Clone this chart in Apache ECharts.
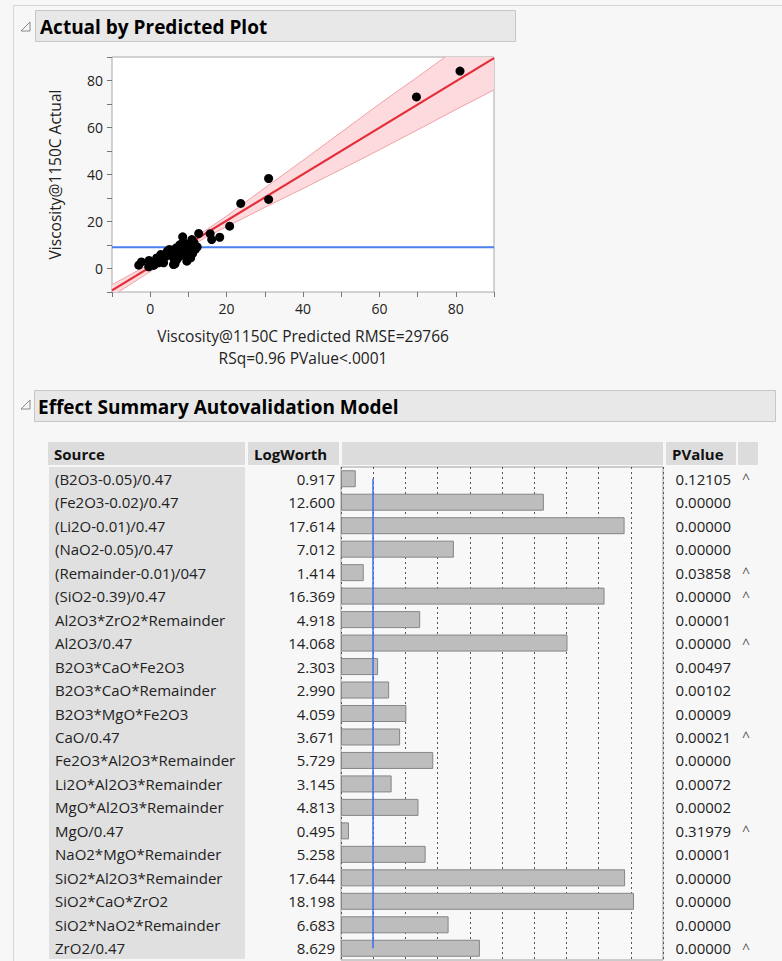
<!DOCTYPE html>
<html>
<head>
<meta charset="utf-8">
<script src="https://cdn.jsdelivr.net/npm/echarts@6/dist/echarts.min.js"></script>
<style>
html,body{margin:0;padding:0;background:#f7f7f7;}
#c{width:782px;height:961px;}
</style>
</head>
<body>
<div id="c"></div>
<script>
// ---- Actual by Predicted data ----
const predicted = [-3.0,-2.3,-0.4,-0.3,1.3,1.7,2.8,3.5,3.9,4.5,5.0,5.5,6.1,6.5,7.0,7.4,7.8,8.5,8.5,9.1,9.6,9.7,10.4,10.9,11.1,11.5,12.3,12.7,15.7,16.1,18.2,20.8,23.7,31.0,31.0,69.7,81.1,2.2,0.9,3.0,4.3,5.9,6.8,7.7,8.3,8.9,10.1,10.6,11.8,6.1];
const actual    = [1.4,2.8,0.7,3.4,2.0,4.5,6.0,2.4,5.0,7.4,8.1,6.0,4.5,2.0,3.8,6.7,10.2,13.5,8.1,6.0,3.1,9.5,8.1,12.3,6.4,10.9,9.2,14.9,14.8,12.3,13.3,18.0,27.7,38.3,29.4,73.0,84.0,2.4,1.3,4.1,5.5,7.4,8.8,5.2,7.4,10.9,7.0,4.5,8.1,1.7];
const fitX = [-10, 90];
const fitY = [-9.3, 89.5];
const meanActual = 9.06;
const bandX     = [-10, 0, 5, 9, 15, 20, 30, 40, 50, 60, 70, 80, 90];
const bandUpper = [-6.9, 2.0, 6.6, 10.5, 16.8, 22.3, 34.3, 46.0, 58.0, 70.0, 81.5, 93.3, 105.0];
const bandLower = [-11.8, -1.3, 4.0, 8.1, 13.6, 17.8, 26.0, 34.0, 42.2, 50.5, 59.0, 67.6, 76.0];
const axisTicks = [0, 20, 40, 60, 80];

// ---- Effect Summary data ----
const sources = ["(B2O3-0.05)/0.47","(Fe2O3-0.02)/0.47","(Li2O-0.01)/0.47","(NaO2-0.05)/0.47","(Remainder-0.01)/047","(SiO2-0.39)/0.47","Al2O3*ZrO2*Remainder","Al2O3/0.47","B2O3*CaO*Fe2O3","B2O3*CaO*Remainder","B2O3*MgO*Fe2O3","CaO/0.47","Fe2O3*Al2O3*Remainder","Li2O*Al2O3*Remainder","MgO*Al2O3*Remainder","MgO/0.47","NaO2*MgO*Remainder","SiO2*Al2O3*Remainder","SiO2*CaO*ZrO2","SiO2*NaO2*Remainder","ZrO2/0.47"];
const logWorth = [0.917,12.600,17.614,7.012,1.414,16.369,4.918,14.068,2.303,2.990,4.059,3.671,5.729,3.145,4.813,0.495,5.258,17.644,18.198,6.683,8.629];
const pValues = ["0.12105","0.00000","0.00000","0.00000","0.03858","0.00000","0.00001","0.00000","0.00497","0.00102","0.00009","0.00021","0.00000","0.00072","0.00002","0.31979","0.00001","0.00000","0.00000","0.00000","0.00000"];
const heredity = ["^","","","","^","^","","^","","","","^","","","","^","","","","","^"];
const refLogWorth = 2;

const FONT = '"Open Sans", "Noto Sans", sans-serif';
const TXT = '#222';

const chart = echarts.init(document.getElementById('c'), null, {renderer: 'svg', width: 782, height: 961});

const pts = predicted.map((x, i) => [x, actual[i]]);
const fitData = fitX.map((x, i) => [x, fitY[i]]);
const meanData = [[-10, meanActual], [90, meanActual]];

function tri(x, y) {
  return {type: 'polygon', shape: {points: [[x + 9, y], [x + 9, y + 9], [x, y + 9]]},
          style: {fill: 'none', stroke: '#8a8a8a', lineWidth: 1}, silent: true};
}
function hdr(x, w, label) {
  return {type: 'group', children: [
    {type: 'rect', shape: {x: x, y: 442, width: w, height: 23}, style: {fill: '#dcdcdc'}},
    {type: 'text', x: x + 6, y: 454, style: {text: label, font: 'bold 15px ' + FONT, fill: '#111', verticalAlign: 'middle'}}
  ]};
}

const option = {
  backgroundColor: '#f7f7f7',
  animation: false,
  textStyle: {fontFamily: FONT},
  graphic: [
    {type: 'line', shape: {x1: 13, y1: 5.5, x2: 782, y2: 5.5}, style: {stroke: '#d6d6d6', lineWidth: 1}, silent: true},
    {type: 'line', shape: {x1: 13.5, y1: 5, x2: 13.5, y2: 961}, style: {stroke: '#d6d6d6', lineWidth: 1}, silent: true},
    tri(21, 22),
    {type: 'rect', shape: {x: 35.5, y: 10.5, width: 480, height: 31}, style: {fill: '#e8e8e8', stroke: '#c6c6c6', lineWidth: 1}, silent: true},
    {type: 'text', x: 40, y: 27, style: {text: 'Actual by Predicted Plot', font: 'bold 19px ' + FONT, fill: '#000', verticalAlign: 'middle'}},
    tri(21, 400),
    {type: 'rect', shape: {x: 34.5, y: 390.5, width: 741, height: 31}, style: {fill: '#e8e8e8', stroke: '#c6c6c6', lineWidth: 1}, silent: true},
    {type: 'text', x: 38, y: 407, style: {text: 'Effect Summary Autovalidation Model', font: 'bold 19px ' + FONT, fill: '#000', verticalAlign: 'middle'}},
    {type: 'rect', shape: {x: 49, y: 467, width: 196, height: 492}, style: {fill: '#e0e0e0'}, silent: true, z: -1},
    hdr(48, 197, 'Source'),
    hdr(248, 91, 'LogWorth'),
    hdr(342, 321, ''),
    hdr(666, 70, 'PValue'),
    hdr(738, 20, '')
  ],
  grid: [
    {left: 112, top: 57, width: 382, height: 235, show: true, backgroundColor: '#fff', borderColor: '#a8a8a8', borderWidth: 1},
    {left: 341, top: 467, width: 322, height: 493, show: true, backgroundColor: '#f8f8f8', borderColor: '#a0a0a0', borderWidth: 1}
  ],
  xAxis: [
    {gridIndex: 0, type: 'value', min: -10, max: 90, interval: 10,
     axisLine: {show: false, onZero: false}, splitLine: {show: false},
     axisTick: {show: true, length: 5, lineStyle: {color: '#777'}},
     axisLabel: {fontSize: 14, color: TXT, margin: 9, formatter: v => axisTicks.indexOf(v) >= 0 ? String(v) : ''},
     name: 'Viscosity@1150C Predicted RMSE=29766\nRSq=0.96 PValue<.0001',
     nameLocation: 'middle', nameGap: 33,
     nameTextStyle: {fontSize: 15.5, color: TXT, lineHeight: 22}},
    {gridIndex: 1, type: 'value', min: 0, max: 20, interval: 2,
     axisLine: {show: false, onZero: false}, axisTick: {show: false}, axisLabel: {show: false},
     splitLine: {show: true, lineStyle: {color: '#555', type: [2, 3], width: 1}}}
  ],
  yAxis: [
    {gridIndex: 0, type: 'value', min: -10, max: 90, interval: 10,
     axisLine: {show: false, onZero: false}, splitLine: {show: false},
     axisTick: {show: true, length: 5, lineStyle: {color: '#777'}},
     axisLabel: {fontSize: 14, color: TXT, margin: 9, formatter: v => axisTicks.indexOf(v) >= 0 ? String(v) : ''},
     name: 'Viscosity@1150C Actual', nameLocation: 'middle', nameGap: 49,
     nameTextStyle: {fontSize: 15.5, color: TXT}},
    {gridIndex: 1, type: 'category', data: sources, inverse: true, position: 'left',
     axisLine: {show: false, onZero: false}, axisTick: {show: false}, splitLine: {show: false},
     axisLabel: {interval: 0, align: 'left', margin: 286, fontSize: 15, color: TXT}},
    {gridIndex: 1, type: 'category', data: sources, inverse: true, position: 'left',
     axisLine: {show: false, onZero: false}, axisTick: {show: false}, splitLine: {show: false},
     axisLabel: {interval: 0, align: 'right', margin: 6, fontSize: 15, color: TXT,
                 formatter: (v, i) => logWorth[i].toFixed(3)}},
    {gridIndex: 1, type: 'category', data: sources, inverse: true, position: 'right',
     axisLine: {show: false, onZero: false}, axisTick: {show: false}, splitLine: {show: false},
     axisLabel: {interval: 0, align: 'right', margin: 68, fontSize: 15, color: TXT,
                 formatter: (v, i) => pValues[i]}},
    {gridIndex: 1, type: 'category', data: sources, inverse: true, position: 'right',
     axisLine: {show: false, onZero: false}, axisTick: {show: false}, splitLine: {show: false},
     axisLabel: {interval: 0, align: 'left', margin: 79, fontSize: 14, color: '#555',
                 formatter: (v, i) => heredity[i]}}
  ],
  series: [
    {type: 'custom', xAxisIndex: 0, yAxisIndex: 0, clip: true, silent: true, z: 1,
     data: [[bandX[0], bandLower[0]]],
     renderItem: function (params, api) {
       const up = bandX.map((x, i) => api.coord([x, bandUpper[i]]));
       const lo = bandX.map((x, i) => api.coord([x, bandLower[i]]));
       const poly = up.concat(lo.slice().reverse());
       return {type: 'group', children: [
         {type: 'polygon', shape: {points: poly}, style: {fill: '#fcdade', stroke: null}},
         {type: 'polyline', shape: {points: up}, style: {stroke: '#f3a0a9', lineWidth: 1, fill: null}},
         {type: 'polyline', shape: {points: lo}, style: {stroke: '#f3a0a9', lineWidth: 1, fill: null}}
       ]};
     }},
    {type: 'line', xAxisIndex: 0, yAxisIndex: 0, data: meanData, symbol: 'none',
     lineStyle: {color: '#4a80ee', width: 2}, z: 2, silent: true},
    {type: 'line', xAxisIndex: 0, yAxisIndex: 0, data: fitData, symbol: 'none',
     lineStyle: {color: '#e52d38', width: 2.2}, z: 3, silent: true},
    {type: 'scatter', xAxisIndex: 0, yAxisIndex: 0, data: pts, symbolSize: 9,
     itemStyle: {color: '#000', opacity: 1}, z: 4, silent: true},
    {type: 'bar', xAxisIndex: 1, yAxisIndex: 1, data: logWorth, barWidth: 17,
     itemStyle: {color: '#bdbdbd', borderColor: '#868686', borderWidth: 1}, silent: true,
     markLine: {silent: true, symbol: 'none', label: {show: false},
       lineStyle: {color: '#3a6ff0', width: 1.5, type: 'solid'},
       data: [[{coord: [refLogWorth, sources[0]]}, {coord: [refLogWorth, sources[sources.length - 1]]}]]}}
  ]
};
chart.setOption(option);
</script>
</body>
</html>
